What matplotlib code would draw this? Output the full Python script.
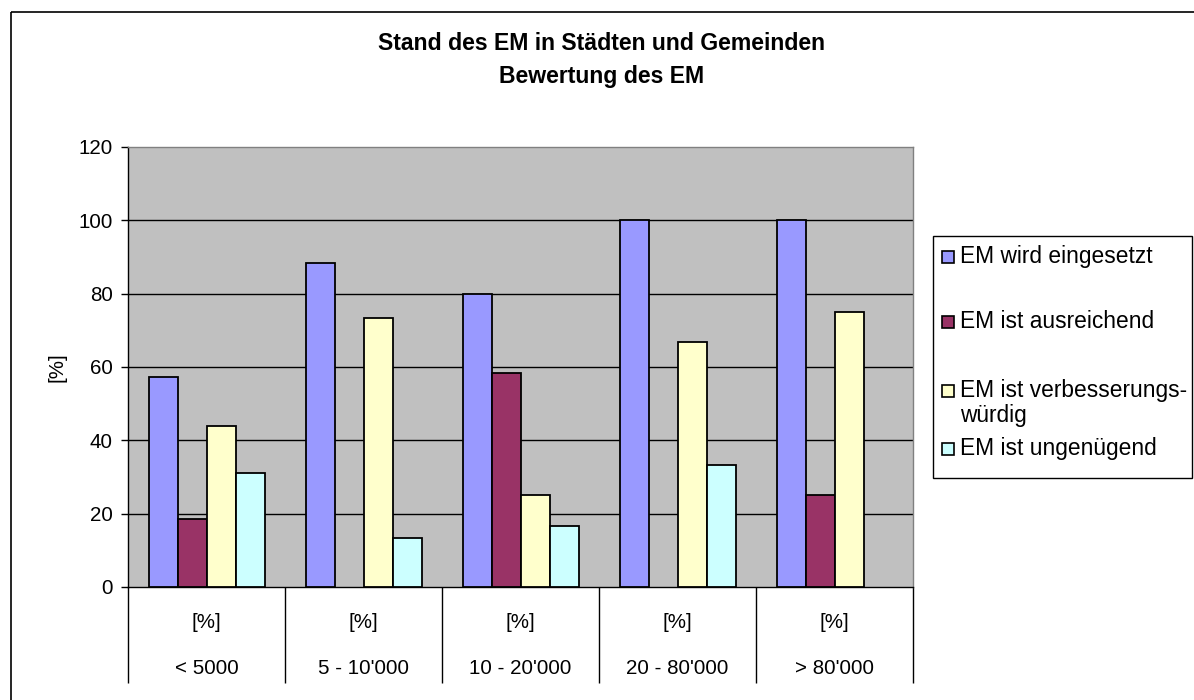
import matplotlib
matplotlib.use("Agg")
import matplotlib.pyplot as plt
import numpy as np
from matplotlib.patches import Rectangle

plt.rcParams["font.family"] = ["Liberation Sans", "DejaVu Sans"]

# --- data -------------------------------------------------------------
categories = ["< 5000", "5 - 10'000", "10 - 20'000", "20 - 80'000", "> 80'000"]
unit_row = ["[%]", "[%]", "[%]", "[%]", "[%]"]
series_names = [
    "EM wird eingesetzt",
    "EM ist ausreichend",
    "EM ist verbesserungs-\nwürdig",
    "EM ist ungenügend",
]
em_eingesetzt = [57.4, 88.5, 80.0, 100.0, 100.0]
em_ausreichend = [18.6, 0.0, 58.3, 0.0, 25.0]
em_verbesserungswuerdig = [44.0, 73.3, 25.0, 66.7, 75.0]
em_ungenuegend = [31.1, 13.4, 16.7, 33.3, 0.0]
y_ticks = [0, 20, 40, 60, 80, 100, 120]

series = [em_eingesetzt, em_ausreichend, em_verbesserungswuerdig, em_ungenuegend]
colors = ["#9999FF", "#993366", "#FFFFCC", "#CCFFFF"]

# --- figure -----------------------------------------------------------
W, H = 1194, 700
fig = plt.figure(figsize=(W / 100, H / 100), dpi=100)

# plot area in pixel units
px_l, px_t, px_r, px_b = 128, 147, 913, 587
ax = fig.add_axes([px_l / W, 1 - px_b / H, (px_r - px_l) / W, (px_b - px_t) / H])
ax.set_facecolor("#C0C0C0")

n = len(categories)
x = np.arange(n) + 0.5
bw = 29 / 157
offsets = (np.arange(len(series)) - 1.5) * bw
for vals, off, col in zip(series, offsets, colors):
    v = np.asarray(vals, dtype=float)
    keep = v > 0  # empty answers are left out, as in the survey table
    ax.bar(x[keep] + off, v[keep], width=bw, color=col, edgecolor="black",
           linewidth=1.3, zorder=3)

ax.set_xlim(0, n)
ax.set_ylim(0, 120)
ax.set_yticks(y_ticks)
ax.set_yticklabels([str(t) for t in y_ticks], fontsize=14.8)
ax.tick_params(axis="y", direction="out", length=5, width=1, color="black", pad=6)
for t in y_ticks[1:-1]:
    ax.axhline(t, color="black", linewidth=1, zorder=1)

# category axis: long separator ticks at group boundaries
ax.set_xticks(np.arange(n + 1))
ax.set_xticklabels([])
ax.tick_params(axis="x", direction="out", length=69, width=1, color="black")

ax.spines["left"].set_color("black")
ax.spines["bottom"].set_color("black")
ax.spines["top"].set_color("#808080")
ax.spines["right"].set_color("#808080")
for s in ax.spines.values():
    s.set_linewidth(1)

trans = ax.get_xaxis_transform()
axh = px_b - px_t
for xi, u, c in zip(x, unit_row, categories):
    ax.text(xi, -(622 - px_b) / axh, u, transform=trans, ha="center",
            va="center", fontsize=14.8)
    ax.text(xi, -(668 - px_b) / axh, c, transform=trans, ha="center",
            va="center", fontsize=14.8)

# --- overlay in pixel coordinates: frame, titles, legend --------------
ov = fig.add_axes([0, 0, 1, 1], facecolor="none")
ov.set_xlim(0, W)
ov.set_ylim(H, 0)
ov.axis("off")

ov.add_patch(Rectangle((11, 12), W + 20, H + 20, fill=False,
                       edgecolor="black", linewidth=1.2))

ov.text(602, 43, "Stand des EM in Städten und Gemeinden", ha="center",
        va="center", fontsize=16.6, fontweight="bold")
ov.text(602, 76, "Bewertung des EM", ha="center", va="center",
        fontsize=16.6, fontweight="bold")

ov.text(57, 367, "[%]", rotation=90, ha="center", va="center", fontsize=14.8)

# legend box
ov.add_patch(Rectangle((933, 236), 1192 - 933, 478 - 236, facecolor="white",
                       edgecolor="black", linewidth=1))
entry_y = [257, 322, 391, 449]
for yy, name, col in zip(entry_y, series_names, colors):
    ov.add_patch(Rectangle((942, yy - 6), 12, 12, facecolor=col,
                           edgecolor="black", linewidth=1.2))
    if "\n" in name:
        ov.text(960, yy - 12, name, ha="left", va="top", fontsize=16.4,
                linespacing=1.12)
    else:
        ov.text(960, yy, name, ha="left", va="center", fontsize=16.4)

fig.savefig("out.png", dpi=100)
